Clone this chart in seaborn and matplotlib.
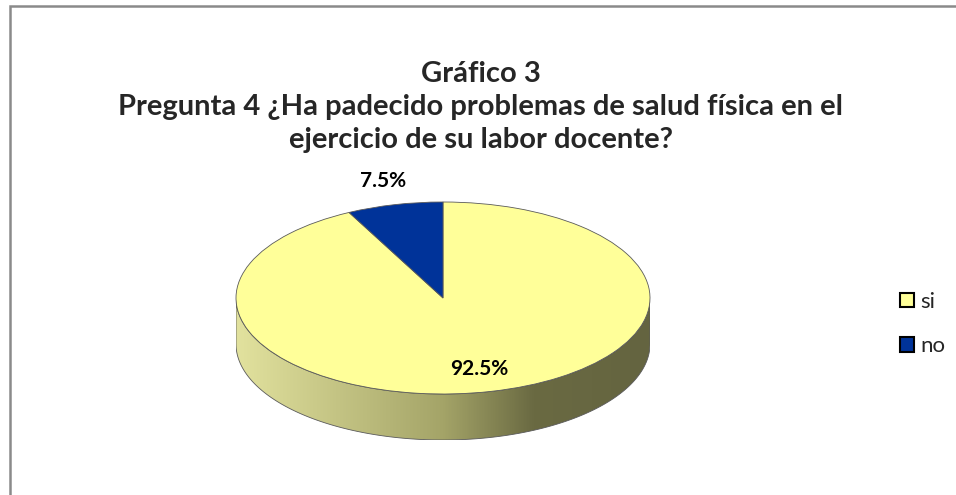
import numpy as np
import matplotlib.pyplot as plt
import matplotlib.patches as mpatches
from matplotlib.colors import LinearSegmentedColormap
import seaborn as sns

# datos del gráfico
categories = ['si', 'no']
percentages = [92.5, 7.5]
pct_labels = ['92.5%', '7.5%']
slice_colors = ['#ffff99', '#003399']
title_lines = ['Gráfico 3',
               'Pregunta 4 ¿Ha padecido problemas de salud física en el',
               'ejercicio de su labor docente?']

sns.set_style('white')
plt.rcParams['font.family'] = ['Lato', 'DejaVu Sans']

W, H = 956, 495
fig = plt.figure(figsize=(W / 100, H / 100), dpi=100)

# marco gris del área del gráfico (sale por la derecha y por abajo)
fig.patches.append(mpatches.Rectangle((10 / W, -1), 2, 2 - 6 / H, transform=fig.transFigure,
                                      fill=False, edgecolor='#8a8a8a', linewidth=1.8))

# geometría de la tarta en píxeles
cx, cy, rx, ry, depth = 443, 298, 207, 96, 46
d = depth / ry
ax = fig.add_axes([(cx - rx) / W, 1 - (cy + ry + depth) / H, 2 * rx / W, (2 * ry + depth) / H])

wedges, _ = ax.pie(percentages, colors=slice_colors, startangle=90, counterclock=False,
                   wedgeprops=dict(edgecolor='#5a5a5a', linewidth=0.6))
ax.set_aspect('auto')
ax.set_xlim(-1, 1)
ax.set_ylim(-1 - d, 1)
ax.axis('off')

# lateral del cilindro con degradado
theta = np.linspace(np.pi, 2 * np.pi, 200)
xs = np.cos(theta)
ys = np.sin(theta)
side_xy = np.column_stack([np.r_[xs, xs[::-1]], np.r_[ys, ys[::-1] - d]])
side = mpatches.Polygon(side_xy, closed=True, facecolor='none', edgecolor='#5a5a5a',
                        linewidth=0.6, zorder=0.6)
ax.add_patch(side)
side_cmap = LinearSegmentedColormap.from_list(
    'side', [(0, '#e2e29e'), (0.5, '#a4a468'), (0.72, '#6a6a42'), (1, '#646440')])
grad = np.linspace(0, 1, 256).reshape(1, -1)
img = ax.imshow(grad, extent=(-1, 1, -1 - d, 0), aspect='auto', cmap=side_cmap, zorder=0.5)
img.set_clip_path(side)

# etiquetas de porcentaje
label_dist = [0.76, 1.25]
for w, txt, dist in zip(wedges, pct_labels, label_dist):
    mid = np.deg2rad((w.theta1 + w.theta2) / 2)
    ax.text(dist * np.cos(mid), dist * np.sin(mid), txt, ha='center', va='center',
            fontsize=15, fontweight='bold', color='black', clip_on=False)

# título
fig.text(481 / W, 1 - 107 / H, '\n'.join(title_lines), ha='center', va='center',
         multialignment='center', fontsize=21, fontweight='bold', linespacing=1.33)

# leyenda
handles = [mpatches.Patch(facecolor=c, edgecolor='black', linewidth=1.5) for c in slice_colors]
fig.legend(handles, categories, loc='center left', bbox_to_anchor=(880 / W, 1 - 324 / H),
           frameon=False, fontsize=16, handlelength=0.65, handleheight=0.65,
           handletextpad=0.25, labelspacing=1.1)

fig.savefig('out.png', dpi=100)
